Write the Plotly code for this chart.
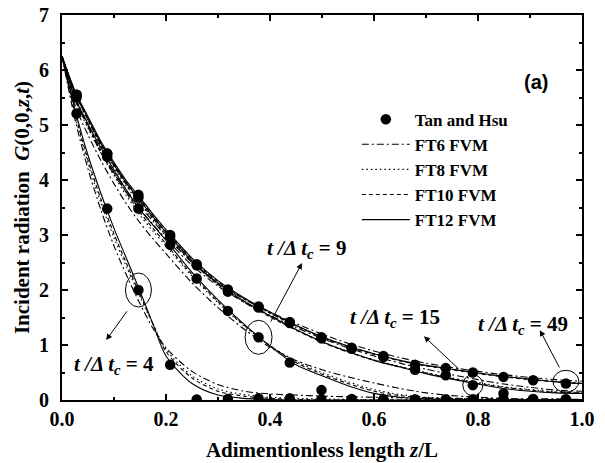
import plotly.graph_objects as go

# ---------------- data ----------------
tan_x = [0.028, 0.087, 0.147, 0.208, 0.259, 0.319, 0.378, 0.438, 0.499, 0.557,
         0.618, 0.679, 0.738, 0.790, 0.849, 0.906, 0.969]
tan_t4 = [5.21, 3.48, 2.00, 0.64, 0.01, 0.02, 0.03, 0.03, 0.01, 0.01,
          0.01, 0.01, 0.01, 0.01, 0.01, 0.01, 0.01]
tan_t9 = [5.50, 4.42, 3.48, 2.82, 2.21, 1.62, 1.14, 0.68, 0.18, 0.02,
          0.01, 0.01, 0.01, 0.01, 0.01, 0.01, 0.01]
tan_t15 = [5.55, 4.48, 3.68, 2.97, 2.45, 1.97, 1.68, 1.40, 1.12, 0.93,
           0.78, 0.55, 0.45, 0.27, 0.12, 0.02, 0.01]
tan_t49 = [5.55, 4.48, 3.73, 3.00, 2.47, 2.01, 1.70, 1.42, 1.14, 0.95,
           0.80, 0.64, 0.58, 0.50, 0.42, 0.36, 0.30]

gx = [0, 0.025, 0.05, 0.075, 0.1, 0.125, 0.15, 0.175, 0.2, 0.25, 0.3, 0.35,
      0.4, 0.45, 0.5, 0.55, 0.6, 0.65, 0.7, 0.75, 0.8, 0.85, 0.9, 0.95, 1.0]

t49_ft12 = [6.25, 5.62, 5.15, 4.70, 4.32, 3.97, 3.68, 3.38, 3.10, 2.58, 2.17, 1.86,
            1.60, 1.36, 1.15, 0.98, 0.84, 0.72, 0.63, 0.56, 0.49, 0.43, 0.38, 0.33, 0.30]
t49_ft10 = [6.25, 5.60, 5.12, 4.67, 4.29, 3.94, 3.65, 3.35, 3.07, 2.56, 2.15, 1.84,
            1.58, 1.35, 1.14, 0.97, 0.83, 0.71, 0.62, 0.55, 0.48, 0.42, 0.37, 0.33, 0.30]
t49_ft8 = [6.25, 5.58, 5.10, 4.64, 4.26, 3.91, 3.62, 3.33, 3.05, 2.55, 2.14, 1.84,
           1.58, 1.35, 1.15, 0.98, 0.84, 0.72, 0.63, 0.56, 0.49, 0.43, 0.38, 0.34, 0.31]
t49_ft6 = [6.25, 5.50, 5.00, 4.52, 4.14, 3.80, 3.52, 3.25, 2.98, 2.50, 2.12, 1.84,
           1.60, 1.39, 1.20, 1.03, 0.89, 0.77, 0.67, 0.59, 0.52, 0.46, 0.41, 0.37, 0.34]

t15_ft12 = [6.25, 5.60, 5.12, 4.66, 4.28, 3.93, 3.63, 3.33, 3.05, 2.53, 2.12, 1.80,
            1.53, 1.28, 1.06, 0.88, 0.72, 0.60, 0.48, 0.38, 0.29, 0.21, 0.16, 0.13, 0.12]
t15_ft10 = [6.25, 5.58, 5.09, 4.63, 4.25, 3.90, 3.60, 3.30, 3.02, 2.51, 2.10, 1.78,
            1.51, 1.27, 1.05, 0.87, 0.72, 0.60, 0.49, 0.39, 0.30, 0.23, 0.18, 0.14, 0.13]
t15_ft8 = [6.25, 5.56, 5.07, 4.61, 4.22, 3.87, 3.57, 3.28, 3.00, 2.50, 2.10, 1.78,
           1.52, 1.28, 1.06, 0.88, 0.73, 0.61, 0.50, 0.40, 0.32, 0.24, 0.19, 0.15, 0.14]
t15_ft6 = [6.25, 5.48, 4.97, 4.49, 4.10, 3.76, 3.47, 3.19, 2.93, 2.45, 2.07, 1.78,
           1.54, 1.32, 1.12, 0.95, 0.80, 0.67, 0.56, 0.46, 0.37, 0.29, 0.23, 0.18, 0.16]

t9_ft12 = [6.25, 5.50, 5.02, 4.58, 4.18, 3.80, 3.46, 3.18, 2.90, 2.32, 1.82, 1.38,
           0.98, 0.64, 0.44, 0.26, 0.12, 0.05, 0.02, 0.01, 0.00, 0.00, 0.00, 0.00, 0.00]
t9_ft10 = [6.25, 5.47, 4.98, 4.53, 4.13, 3.75, 3.41, 3.12, 2.84, 2.28, 1.79, 1.36,
           0.99, 0.68, 0.47, 0.30, 0.16, 0.08, 0.04, 0.02, 0.01, 0.00, 0.00, 0.00, 0.00]
t9_ft8 = [6.25, 5.44, 4.94, 4.49, 4.08, 3.70, 3.36, 3.07, 2.80, 2.25, 1.77, 1.35,
          0.99, 0.70, 0.50, 0.33, 0.19, 0.10, 0.05, 0.03, 0.02, 0.01, 0.00, 0.00, 0.00]
t9_ft6 = [6.25, 5.36, 4.82, 4.35, 3.93, 3.55, 3.22, 2.93, 2.66, 2.13, 1.68, 1.29,
          0.96, 0.72, 0.55, 0.42, 0.31, 0.21, 0.13, 0.08, 0.05, 0.03, 0.02, 0.02, 0.01]

t4_ft12 = [6.25, 5.28, 4.45, 3.75, 3.12, 2.55, 1.98, 1.38, 0.80, 0.30, 0.09, 0.03,
           0.01, 0.00, 0.00, 0.00, 0.00, 0.00, 0.00, 0.00, 0.00, 0.00, 0.00, 0.00, 0.00]
t4_ft10 = [6.25, 5.22, 4.36, 3.65, 3.02, 2.46, 1.92, 1.38, 0.88, 0.40, 0.16, 0.07,
           0.03, 0.01, 0.00, 0.00, 0.00, 0.00, 0.00, 0.00, 0.00, 0.00, 0.00, 0.00, 0.00]
t4_ft8 = [6.25, 5.18, 4.30, 3.58, 2.95, 2.40, 1.88, 1.38, 0.92, 0.44, 0.20, 0.10,
          0.05, 0.03, 0.02, 0.01, 0.00, 0.00, 0.00, 0.00, 0.00, 0.00, 0.00, 0.00, 0.00]
t4_ft6 = [6.25, 5.10, 4.20, 3.45, 2.80, 2.25, 1.75, 1.30, 0.95, 0.52, 0.28, 0.16,
          0.11, 0.09, 0.07, 0.06, 0.05, 0.04, 0.03, 0.03, 0.02, 0.02, 0.01, 0.01, 0.01]

x_ticks = [0.0, 0.2, 0.4, 0.6, 0.8, 1.0]
y_ticks = [0, 1, 2, 3, 4, 5, 6, 7]

# ---------------- figure ----------------
SERIF = "Liberation Serif, Times New Roman, serif"
fig = go.Figure()

schemes = [
    ("FT6 FVM", "7px,3px,2px,3px", [t4_ft6, t9_ft6, t15_ft6, t49_ft6]),
    ("FT8 FVM", "1.5px,3px", [t4_ft8, t9_ft8, t15_ft8, t49_ft8]),
    ("FT10 FVM", "4px,3px", [t4_ft10, t9_ft10, t15_ft10, t49_ft10]),
    ("FT12 FVM", "solid", [t4_ft12, t9_ft12, t15_ft12, t49_ft12]),
]
for si, (name, dash, series) in enumerate(schemes):
    for k, ys in enumerate(series):
        fig.add_trace(go.Scatter(
            x=gx, y=ys, mode="lines", name=name,
            line=dict(color="black", width=1.1, dash=dash, shape="spline", smoothing=0.8),
            legendgroup=name, showlegend=(k == 0), legendrank=2 + si,
        ))

for k, ys in enumerate([tan_t4, tan_t9, tan_t15, tan_t49]):
    fig.add_trace(go.Scatter(
        x=tan_x, y=ys, mode="markers", name="Tan and Hsu",
        marker=dict(color="black", size=10.5, symbol="circle"),
        legendgroup="tan", showlegend=(k == 0), legendrank=1,
    ))

# ellipses (centre in data coords, sizes in pixels)
ellipses = [
    (0.147, 2.00, 13, 17),
    (0.378, 1.14, 13.5, 17),
    (0.790, 0.27, 10, 10.5),
    (0.969, 0.34, 13, 11),
]
for cx, cy, rx, ry in ellipses:
    fig.add_shape(type="circle", xref="x", yref="y", xsizemode="pixel", ysizemode="pixel",
                  xanchor=cx, yanchor=cy, x0=-rx, x1=rx, y0=-ry, y1=ry,
                  line=dict(color="black", width=1))

# arrows (head, tail)
arrows = [
    ((0.085, 1.09), (0.127, 1.64)),
    ((0.4615, 2.49), (0.400, 1.40)),
    ((0.696, 1.16), (0.765, 0.545)),
    ((0.919, 1.27), (0.958, 0.564)),
]
for (hx, hy), (tx, ty) in arrows:
    fig.add_annotation(x=hx, y=hy, ax=tx, ay=ty, xref="x", yref="y", axref="x", ayref="y",
                       text="", showarrow=True, arrowhead=2, arrowsize=1.2, arrowwidth=1,
                       arrowcolor="black")

labels = [
    ("4", 0.100, 0.64),
    ("9", 0.471, 2.74),
    ("15", 0.640, 1.49),
    ("49", 0.886, 1.36),
]
for val, lx, ly in labels:
    fig.add_annotation(x=lx, y=ly, xref="x", yref="y", showarrow=False,
                       text="<i>t /Δ t<sub>c</sub></i> = " + val,
                       font=dict(family=SERIF, size=21, color="black", weight="bold"))

fig.add_annotation(x=0.912, y=5.78, xref="x", yref="y", showarrow=False, text="(a)",
                   font=dict(family="Liberation Sans, Arial, sans-serif", size=20,
                             color="black", weight="bold"))

axis_common = dict(
    showline=True, linecolor="black", linewidth=2, mirror="allticks",
    ticks="inside", ticklen=6, tickwidth=1.5, tickcolor="black",
    showgrid=False, zeroline=False, automargin=False,
    tickfont=dict(family=SERIF, size=20, color="black", weight="bold"),
)
fig.update_xaxes(range=[0, 1], tickvals=x_ticks, ticktext=[f"{v:.1f}" for v in x_ticks],
                 minor=dict(dtick=0.1, ticks="inside", ticklen=3, tickcolor="black", tickwidth=1.5),
                 title=dict(text="Adimentionless length <i>z</i>/L", standoff=13,
                            font=dict(family=SERIF, size=21, color="black", weight="bold")),
                 **axis_common)
fig.update_yaxes(range=[0, 7], tickvals=y_ticks, ticktext=[str(v) for v in y_ticks],
                 ticklabelstandoff=7,
                 minor=dict(dtick=0.5, ticks="inside", ticklen=3, tickcolor="black", tickwidth=1.5),
                 title=dict(text="Incident radiation\u00a0 <i>G</i>(0,0,<i>z</i>,<i>t</i>)", standoff=4,
                            font=dict(family=SERIF, size=21, color="black", weight="bold")),
                 **axis_common)

fig.update_layout(
    width=605, height=463,
    margin=dict(l=62, r=23, t=15, b=63, autoexpand=False),
    paper_bgcolor="white", plot_bgcolor="white",
    legend=dict(x=0.567, y=0.775, xanchor="left", yanchor="top", bgcolor="rgba(0,0,0,0)",
                traceorder="grouped", tracegroupgap=0, itemwidth=48,
                font=dict(family=SERIF, size=17, color="black", weight="bold")),
)

fig.write_html("out.html",
               config={"displayModeBar": False},
               post_script="document.body.style.margin='0px';"
                           "document.documentElement.style.overflow='hidden';")
